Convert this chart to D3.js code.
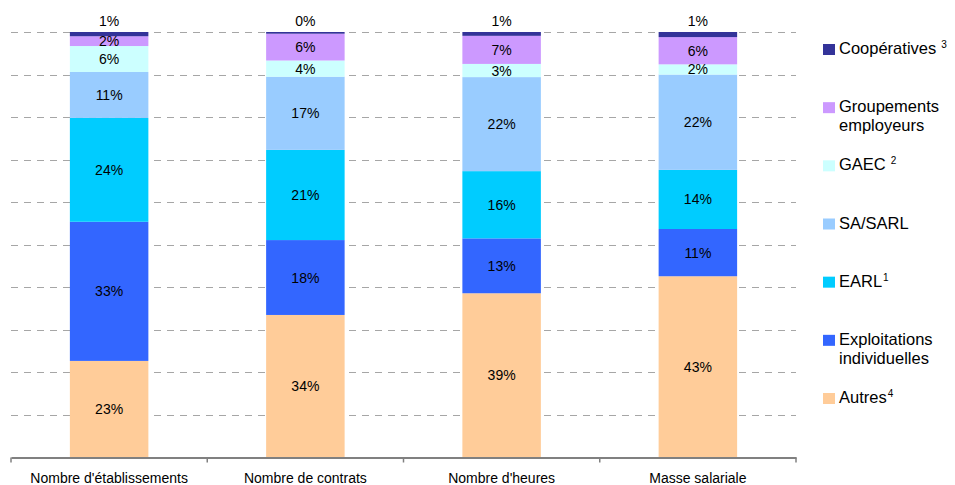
<!DOCTYPE html>
<html>
<head>
<meta charset="utf-8">
<script src="https://cdn.jsdelivr.net/npm/d3@7"></script>
<style>
  body { margin: 0; background: #fff; }
  svg { font-family: "Liberation Sans", Arial, sans-serif; }
</style>
</head>
<body>
<div id="chart"></div>
<script>
// data
var categories = ["Nombre d'établissements", "Nombre de contrats", "Nombre d'heures", "Masse salariale"];
var seriesKeys = ["Autres", "Exploitations individuelles", "EARL", "SA/SARL", "GAEC", "Groupements employeurs", "Coopératives"];

var autres = [22.7, 33.5, 38.6, 42.6];
var exploitations = [32.7, 17.6, 12.9, 11.1];
var earl = [24.4, 21.2, 15.8, 13.9];
var saSarl = [10.8, 17.2, 22.1, 22.4];
var gaec = [6.1, 3.8, 3.1, 2.4];
var groupements = [2.3, 6.3, 6.6, 6.4];
var cooperatives = [1.0, 0.4, 0.9, 1.2];

var gridTicks = [10, 20, 30, 40, 50, 60, 70, 80, 90, 100];

// legend text (top to bottom), with superscript notes
var legendLines = [
    { key: "Coopératives", lines: ["Coopératives"], sup: "3", gap: true },
    { key: "Groupements employeurs", lines: ["Groupements", "employeurs"], sup: "", gap: false },
    { key: "GAEC", lines: ["GAEC"], sup: "2", gap: true },
    { key: "SA/SARL", lines: ["SA/SARL"], sup: "", gap: false },
    { key: "EARL", lines: ["EARL"], sup: "1", gap: false },
    { key: "Exploitations individuelles", lines: ["Exploitations", "individuelles"], sup: "", gap: false },
    { key: "Autres", lines: ["Autres"], sup: "4", gap: false }
];

var colors = {
    "Autres": "#FFCC99",
    "Exploitations individuelles": "#3366FF",
    "EARL": "#00CCFF",
    "SA/SARL": "#99CCFF",
    "GAEC": "#CCFFFF",
    "Groupements employeurs": "#CC99FF",
    "Coopératives": "#333399"
};

var columns = [autres, exploitations, earl, saSarl, gaec, groupements, cooperatives];
var table = categories.map(function(c, i) {
    var row = { category: c };
    seriesKeys.forEach(function(k, j) { row[k] = columns[j][i]; });
    return row;
});

var svgWidth = 955, svgHeight = 485;
var svg = d3.select("#chart").append("svg").attr("width", svgWidth).attr("height", svgHeight);

var x = d3.scaleBand().domain(categories).range([11, 796]).padding(0);
var y = d3.scaleLinear().domain([0, 100]).range([457.5, 32]);

// grid
svg.append("g").selectAll("line").data(gridTicks).enter().append("line")
    .attr("x1", 11).attr("x2", 796)
    .attr("y1", function(d) { return Math.round(y(d)) + 0.5; })
    .attr("y2", function(d) { return Math.round(y(d)) + 0.5; })
    .attr("stroke", "#A6A6A6")
    .attr("stroke-dasharray", "7,6");

// bars
var stacked = d3.stack().keys(seriesKeys)(table);
var barW = x.bandwidth() * 0.4;
var barOff = x.bandwidth() * 0.3;

var layers = svg.append("g").selectAll("g").data(stacked).enter().append("g")
    .attr("fill", function(d) { return colors[d.key]; });

layers.selectAll("rect").data(function(d) { return d; }).enter().append("rect")
    .attr("x", function(d) { return x(d.data.category) + barOff; })
    .attr("y", function(d) { return y(d[1]); })
    .attr("width", barW)
    .attr("height", function(d) { return y(d[0]) - y(d[1]); });

// value labels
var topKey = seriesKeys[seriesKeys.length - 1];
layers.each(function(layer) {
    d3.select(this.parentNode).append("g").selectAll("text").data(layer).enter().append("text")
        .attr("x", function(d) { return x(d.data.category) + x.bandwidth() / 2; })
        .attr("y", function(d) {
            if (layer.key === topKey) return y(d[1]) - 11;
            return (y(d[0]) + y(d[1])) / 2;
        })
        .attr("dy", "0.36em")
        .attr("text-anchor", "middle")
        .attr("font-size", 14)
        .attr("fill", "#000")
        .text(function(d) { return Math.round(d[1] - d[0]) + "%"; });
});

// x axis
var axisG = svg.append("g").attr("transform", "translate(0," + 457.5 + ")");
axisG.call(d3.axisBottom(x).tickSize(0).tickPadding(16));
axisG.select(".domain").attr("stroke", "#808080").attr("stroke-width", 2);
axisG.selectAll(".tick text").attr("font-size", 14).attr("fill", "#000").attr("font-family", "Liberation Sans, Arial, sans-serif");
var bounds = categories.map(function(c) { return x(c); }).concat([x.range()[1]]);
axisG.selectAll("line.sep").data(bounds).enter().append("line")
    .attr("class", "sep")
    .attr("x1", function(d) { return d; }).attr("x2", function(d) { return d; })
    .attr("y1", 0).attr("y2", 5)
    .attr("stroke", "#808080").attr("stroke-width", 1.5);

// legend
var legendY = d3.scalePoint().domain(legendLines.map(function(d) { return d.key; })).range([44, 393]);
var legend = svg.append("g").selectAll("g").data(legendLines).enter().append("g")
    .attr("transform", function(d) { return "translate(823," + legendY(d.key) + ")"; });

legend.append("rect")
    .attr("width", 12).attr("height", 11)
    .attr("fill", function(d) { return colors[d.key]; });

legend.each(function(d) {
    var t = d3.select(this).append("text")
        .attr("x", 16).attr("y", 10)
        .attr("font-size", 16.5)
        .attr("fill", "#000");
    d.lines.forEach(function(line, i) {
        t.append("tspan").attr("x", 16).attr("dy", i === 0 ? 0 : 19).text(line);
        if (i === d.lines.length - 1 && d.sup) {
            t.append("tspan").attr("font-size", 10).attr("dy", -6)
                .attr("dx", d.gap ? 5 : 1).text(d.sup);
        }
    });
});
</script>
</body>
</html>
